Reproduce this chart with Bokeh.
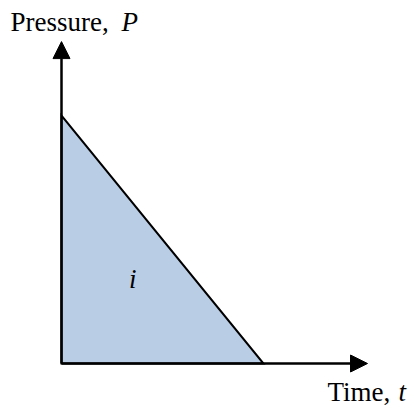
from bokeh.plotting import figure
from bokeh.models import Arrow, NormalHead, Label, Range1d
from bokeh.embed import file_html
from bokeh.resources import INLINE

# Triangular pressure pulse (normalised units)
time = [0.0, 0.0, 1.0]
pressure = [1.0, 0.0, 0.0]

# axis extents (arrow tips)
t_axis_end = 1.515
p_axis_end = 1.298

x_title = ["Time, ", "t"]
y_title = ["Pressure, ", "P"]
area_label = "i"

p = figure(width=409, height=407, output_backend="svg", toolbar_location=None,
           x_range=Range1d(-0.3020, 1.7228), y_range=Range1d(-0.1774, 1.4637),
           x_axis_type=None, y_axis_type=None, min_border=0)
p.grid.visible = False
p.outline_line_color = None

p.patch(time, pressure, fill_color="#B9CDE5", line_color="black", line_width=2,
        line_join="miter")

p.add_layout(Arrow(end=NormalHead(size=17, fill_color="black", line_color="black", line_width=1),
                   x_start=0, y_start=0, x_end=0, y_end=p_axis_end,
                   line_width=2.5, line_color="black"))
p.add_layout(Arrow(end=NormalHead(size=17, fill_color="black", line_color="black", line_width=1),
                   x_start=0, y_start=0, x_end=t_axis_end, y_end=0,
                   line_width=2.5, line_color="black"))

font = "Liberation Serif"
fs = "27px"
y_top = 1.375
y_bot = -0.113
p.add_layout(Label(x=-0.2525, y=y_top, text=y_title[0], text_font=font, text_font_size=fs,
                   text_baseline="alphabetic", text_align="left", text_color="black"))
p.add_layout(Label(x=0.297, y=y_top, text=y_title[1], text_font=font, text_font_size=fs,
                   text_font_style="italic", text_baseline="alphabetic", text_align="left",
                   text_color="black"))
p.add_layout(Label(x=1.3168, y=y_bot, text=x_title[0], text_font=font, text_font_size=fs,
                   text_baseline="alphabetic", text_align="left", text_color="black"))
p.add_layout(Label(x=1.668, y=y_bot, text=x_title[1], text_font=font, text_font_size=fs,
                   text_font_style="italic", text_baseline="alphabetic", text_align="left",
                   text_color="black"))
p.add_layout(Label(x=0.353, y=0.340, text=area_label, text_font=font, text_font_size=fs,
                   text_font_style="italic", text_baseline="alphabetic", text_align="center",
                   text_color="black"))

open("out.html", "w").write(file_html(p, INLINE))
